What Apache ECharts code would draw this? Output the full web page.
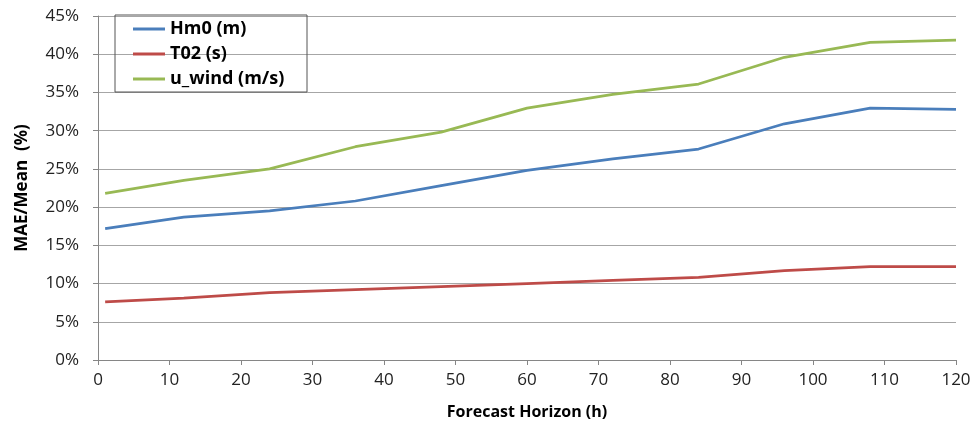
<!DOCTYPE html>
<html>
<head>
<meta charset="utf-8">
<script src="https://cdn.jsdelivr.net/npm/echarts@6/dist/echarts.min.js"></script>
<style>html,body{margin:0;padding:0;background:#fff;}#c{width:975px;height:426px;}</style>
</head>
<body>
<div id="c"></div>
<script>
const horizons = [1, 12, 24, 36, 48, 60, 72, 84, 96, 108, 120];
const hm0 = [17.2, 18.7, 19.5, 20.8, 22.8, 24.8, 26.3, 27.6, 30.9, 32.95, 32.8];
const t02 = [7.6, 8.1, 8.8, 9.2, 9.6, 10.0, 10.4, 10.8, 11.7, 12.2, 12.2];
const uwind = [21.8, 23.5, 25.0, 27.9, 29.8, 32.95, 34.75, 36.1, 39.6, 41.55, 41.85];
const seriesNames = ['Hm0 (m)', 'T02 (s)', 'u_wind (m/s)'];
const colors = ['#4A7EBB', '#BE4B48', '#98B954'];

const font = '"Open Sans", Lato, sans-serif';
const pair = (xs, ys) => xs.map((x, i) => [x, ys[i]]);
const chart = echarts.init(document.getElementById('c'), null, {renderer: 'canvas'});
chart.setOption({
  animation: false,
  textStyle: {fontFamily: font},
  grid: {left: 98, right: 19, top: 16, bottom: 66, containLabel: false},
  legend: {
    left: 115, top: 15, orient: 'vertical',
    borderColor: '#555', borderWidth: 1,
    padding: [4, 9, 3, 18],
    itemGap: 5, itemWidth: 32, itemHeight: 3, icon: 'rect',
    textStyle: {fontFamily: font, fontWeight: 'bold', fontSize: 18, color: '#000', lineHeight: 20, width: 128},
    data: seriesNames
  },
  xAxis: {
    type: 'value', min: 0, max: 120, interval: 10,
    name: 'Forecast Horizon (h)', nameLocation: 'middle', nameGap: 44,
    nameTextStyle: {fontFamily: font, fontWeight: 'bold', fontSize: 16, color: '#000'},
    axisLine: {show: true, lineStyle: {color: '#868686', width: 1}},
    axisTick: {show: true, length: 5, lineStyle: {color: '#868686'}},
    axisLabel: {fontFamily: font, fontSize: 17, color: '#222', margin: 12},
    splitLine: {show: false}
  },
  yAxis: {
    type: 'value', min: 0, max: 45, interval: 5,
    name: 'MAE/Mean  (%)', nameLocation: 'middle', nameGap: 67,
    nameTextStyle: {fontFamily: font, fontWeight: 'bold', fontSize: 17, color: '#000'},
    axisLine: {show: true, lineStyle: {color: '#868686', width: 1}},
    axisTick: {show: true, length: 5, lineStyle: {color: '#868686'}},
    axisLabel: {fontFamily: font, fontSize: 17, color: '#222', margin: 19, formatter: '{value}%'},
    splitLine: {show: true, lineStyle: {color: '#A6A6A6', width: 1}}
  },
  series: [
    {name: seriesNames[0], type: 'line', data: pair(horizons, hm0), symbol: 'none', lineStyle: {color: colors[0], width: 2.75}, itemStyle: {color: colors[0]}},
    {name: seriesNames[1], type: 'line', data: pair(horizons, t02), symbol: 'none', lineStyle: {color: colors[1], width: 2.75}, itemStyle: {color: colors[1]}},
    {name: seriesNames[2], type: 'line', data: pair(horizons, uwind), symbol: 'none', lineStyle: {color: colors[2], width: 2.75}, itemStyle: {color: colors[2]}}
  ]
});
</script>
</body>
</html>
